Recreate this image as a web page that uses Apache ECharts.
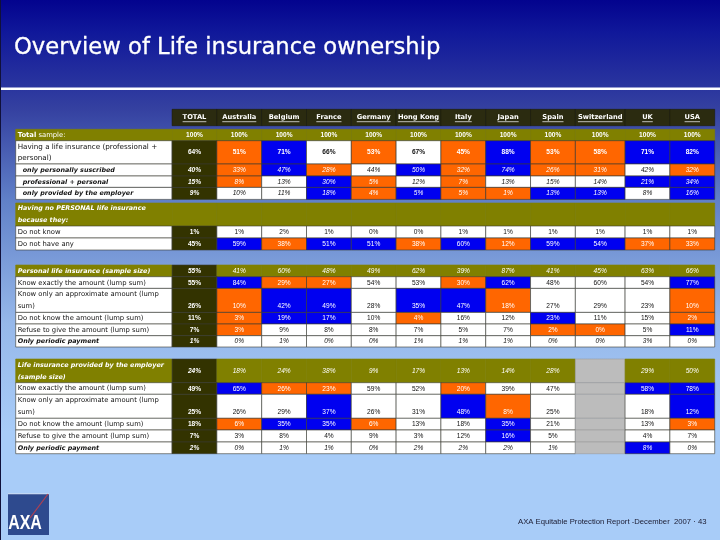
<!DOCTYPE html>
<html>
<head>
<meta charset="utf-8">
<title>Overview of Life insurance ownership</title>
<style>
	html, body { margin: 0; padding: 0; }
	#main { width: 720px; height: 540px; }
</style>
<script src="https://cdn.jsdelivr.net/npm/echarts@6/dist/echarts.min.js"></script>
</head>
<body>
<div id="main"></div>
<script>
	const countries = ["TOTAL", "Australia", "Belgium", "France", "Germany", "Hong Kong", "Italy", "Japan", "Spain", "Switzerland", "UK", "USA"];

	const rowLabels = [
		"{b|Total} sample:",
		"Having a life insurance (professional +\npersonal)",
		"only personally suscribed",
		"professional + personal",
		"only provided by the employer",
		"Having no PERSONAL life insurance\nbecause they:",
		"Do not know",
		"Do not have any",
		"Personal life insurance (sample size)",
		"Know exactly the amount (lump sum)",
		"Know only an approximate amount (lump\nsum)",
		"Do not know the amount (lump sum)",
		"Refuse to give the amount (lump sum)",
		"Only periodic payment",
		"Life insurance provided by the employer\n(sample size)",
		"Know exactly the amount (lump sum)",
		"Know only an approximate amount (lump\nsum)",
		"Do not know the amount (lump sum)",
		"Refuse to give the amount (lump sum)",
		"Only periodic payment"
	];

	// 各行数值 (%)，null = 空格
	const totalSample = [100, 100, 100, 100, 100, 100, 100, 100, 100, 100, 100, 100];
	const havingInsurance = [64, 51, 71, 66, 53, 67, 45, 88, 53, 58, 71, 82];
	const onlyPersonal = [40, 33, 47, 28, 44, 50, 32, 74, 26, 31, 42, 32];
	const professionalPersonal = [15, 8, 13, 30, 5, 12, 7, 13, 15, 14, 21, 34];
	const onlyEmployer = [9, 10, 11, 18, 4, 5, 5, 1, 13, 13, 8, 16];
	const noPersonalTitle = [null, null, null, null, null, null, null, null, null, null, null, null];
	const noPersonalDontKnow = [1, 1, 2, 1, 0, 0, 1, 1, 1, 1, 1, 1];
	const noPersonalDontHave = [45, 59, 38, 51, 51, 38, 60, 12, 59, 54, 37, 33];
	const personalSample = [55, 41, 60, 48, 49, 62, 39, 87, 41, 45, 63, 66];
	const personalExact = [55, 84, 29, 27, 54, 53, 30, 62, 48, 60, 54, 77];
	const personalApprox = [26, 10, 42, 49, 28, 35, 47, 18, 27, 29, 23, 10];
	const personalDontKnow = [11, 3, 19, 17, 10, 4, 16, 12, 23, 11, 15, 2];
	const personalRefuse = [7, 3, 9, 8, 8, 7, 5, 7, 2, 0, 5, 11];
	const personalPeriodic = [1, 0, 1, 0, 0, 1, 1, 1, 0, 0, 3, 0];
	const employerSample = [24, 18, 24, 38, 9, 17, 13, 14, 28, null, 29, 50];
	const employerExact = [49, 65, 26, 23, 59, 52, 20, 39, 47, null, 58, 78];
	const employerApprox = [25, 26, 29, 37, 26, 31, 48, 8, 25, null, 18, 12];
	const employerDontKnow = [18, 6, 35, 35, 6, 13, 18, 35, 21, null, 13, 3];
	const employerRefuse = [7, 3, 8, 4, 9, 3, 12, 16, 5, null, 4, 7];
	const employerPeriodic = [2, 0, 1, 1, 0, 2, 2, 2, 1, null, 8, 0];

	const rowValues = [totalSample, havingInsurance, onlyPersonal, professionalPersonal, onlyEmployer,
		noPersonalTitle, noPersonalDontKnow, noPersonalDontHave,
		personalSample, personalExact, personalApprox, personalDontKnow, personalRefuse, personalPeriodic,
		employerSample, employerExact, employerApprox, employerDontKnow, employerRefuse, employerPeriodic
	];

	// 每格底色: g 橄榄 d 深色 o 橙 b 蓝 w 白 x 灰
	const rowShades = [
		"gggggggggggg",
		"dobwowoboobb",
		"dobowboboowo",
		"dowbowowwwbb",
		"dwwboboobbwb",
		"gggggggggggg",
		"dwwwwwwwwwww",
		"dbobbobobboo",
		"dggggggggggg",
		"dboowwobwwwb",
		"dobbwbbowwwo",
		"dobbwowwbwwo",
		"dowwwwwwoowb",
		"dwwwwwwwwwww",
		"dggggggggxgg",
		"dboowwowwxbb",
		"dwwbwwbowxwb",
		"dobbowwbwxwo",
		"dwwwwwwbwxww",
		"dwwwwwwwwxbw"
	];

	const shadeColors = { g: "#808000", d: "#333300", o: "#ff6600", b: "#0000f0", w: "#ffffff", x: "#bcbcbc" };

	// 版面: 行高、行前间距、列宽 (列宽以普通列为 1)
	const headerHeight = 16.4;
	const rowHeights = [11.4, 23.3, 12, 11.4, 12, 23, 12, 12, 11.7, 11.7, 24, 11.6, 11.7, 11.3, 23.7, 11.6, 24, 11.7, 12, 11.7];
	const rowGaps = [3.6, 0, 0, 0, 0, 3.6, 0, 0, 15, 0, 0, 0, 0, 0, 12, 0, 0, 0, 0, 0];
	const labelSpan = 3.49;
	const colSpans = [1, 1, 1, 1, 1, 1, 1, 1, 1, 1.11, 1, 1];
	const italicRows = [2, 3, 4, 5, 8, 13, 14, 19];
	const boldValueRows = [1];
	const bottomRows = [10, 16];
	const indentRows = [2, 3, 4];
	const valueFont = "Liberation Sans";
	const labelFont = "DejaVu Sans";

	let colEdges = [0, labelSpan];
	colSpans.forEach(s => colEdges.push(colEdges[colEdges.length - 1] + s));
	let rowTops = [];
	let yPos = headerHeight;
	rowHeights.forEach((h, i) => {
		yPos += rowGaps[i];
		rowTops.push(yPos);
		yPos += h;
	});
	const yMax = yPos;
	const xMax = colEdges[colEdges.length - 1];

	const measure = document.createElement("canvas").getContext("2d");

	function cellBox(api, c0, c1, y0, y1) {
		let a = api.coord([c0, y0]);
		let b = api.coord([c1, y1]);
		return { x: a[0], y: a[1], width: b[0] - a[0], height: b[1] - a[1] };
	}

	function renderHeader(params, api) {
		let c = api.value(0);
		let box = cellBox(api, colEdges[c + 1], colEdges[c + 2], 0, headerHeight);
		let font = "bold 6.7px " + labelFont;
		measure.font = font;
		let w = measure.measureText(countries[c]).width;
		let cx = box.x + box.width / 2;
		let cy = box.y + box.height / 2;
		return {
			type: "group",
			children: [{
				type: "rect",
				shape: box,
				style: { fill: "#2b2b10", stroke: "#1c1c08", lineWidth: 0.6 }
			}, {
				type: "text",
				style: { x: cx, y: cy - 0.5, text: countries[c], align: "center", verticalAlign: "middle", fill: "#fff", font: font }
			}, {
				type: "line",
				shape: { x1: cx - w / 2, y1: cy + 4.2, x2: cx + w / 2, y2: cy + 4.2 },
				style: { stroke: "#fff", lineWidth: 0.7 }
			}]
		};
	}

	function renderCell(params, api) {
		let r = api.value(0);
		let c = api.value(1);
		let top = rowTops[r];
		let box = cellBox(api, colEdges[c + 1], colEdges[c + 2], top, top + rowHeights[r]);
		let shade = rowShades[r][c];
		let val = rowValues[r][c];
		let strokes = { g: "#808000", x: "#9c9c9c" };
		let children = [{
			type: "rect",
			shape: box,
			style: { fill: shadeColors[shade], stroke: strokes[shade] || "#3a3a30", lineWidth: 0.6 }
		}];
		if (val !== null) {
			let textY = box.y + box.height / 2 + 0.2;
			if (bottomRows.indexOf(r) > -1) textY = box.y + box.height * 0.74;
			let italic = italicRows.indexOf(r) > -1 ? "italic " : "";
			let bold = boldValueRows.indexOf(r) > -1 || r == 0 || shade == "d" ? "bold " : "";
			children.push({
				type: "text",
				style: {
					x: box.x + box.width / 2,
					y: textY,
					text: val + "%",
					align: "center",
					verticalAlign: "middle",
					fill: shade == "w" ? "#111" : "#fff",
					font: italic + bold + "6.6px " + valueFont
				}
			});
		}
		return { type: "group", children: children };
	}

	function renderLabel(params, api) {
		let r = api.value(0);
		let top = rowTops[r];
		let box = cellBox(api, 0, labelSpan, top, top + rowHeights[r]);
		let olive = r == 0 || r == 5 || r == 8 || r == 14;
		let italic = italicRows.indexOf(r) > -1;
		let font = italic ? "italic bold 6.4px " + labelFont : (r == 1 ? "7.2px " : "6.8px ") + labelFont;
		return {
			type: "group",
			children: [{
				type: "rect",
				shape: box,
				style: { fill: olive ? shadeColors.g : shadeColors.w, stroke: olive ? shadeColors.g : "#3a3a30", lineWidth: 0.6 }
			}, {
				type: "text",
				style: {
					x: box.x + (indentRows.indexOf(r) > -1 ? 7 : 2),
					y: box.y + box.height / 2 + 0.2,
					text: rowLabels[r],
					align: "left",
					verticalAlign: "middle",
					lineHeight: 11.8,
					fill: olive ? "#fff" : "#111",
					font: font,
					rich: { b: { font: "bold 6.8px " + labelFont, fill: "#fff" } }
				}
			}]
		};
	}

	let cellData = [];
	rowValues.forEach((vals, r) => {
		vals.forEach((v, c) => cellData.push([r, c]));
	});

	let myChart = echarts.init(document.getElementById("main"), null, { renderer: "canvas" });
	let option = {
		animation: false,
		backgroundColor: {
			type: "linear", x: 0, y: 0, x2: 0, y2: 1,
			colorStops: [
				{ offset: 0, color: "#03038e" },
				{ offset: 0.06, color: "#10189a" },
				{ offset: 0.2, color: "#3440a0" },
				{ offset: 0.37, color: "#6080c8" },
				{ offset: 0.6, color: "#96b8ea" },
				{ offset: 0.8, color: "#a8ccf8" },
				{ offset: 1, color: "#a8ccf8" }
			]
		},
		title: {
			text: "Overview of Life insurance ownership",
			left: 14,
			top: 37,
			padding: 0,
			textStyle: { color: "#fff", fontFamily: "DejaVu Sans", fontSize: 22.7, fontWeight: "normal", textBorderColor: "#fff", textBorderWidth: 0.3 }
		},
		grid: { left: 15.7, right: 5.3, top: 109.3, bottom: 86.3 },
		xAxis: { type: "value", min: 0, max: xMax, show: false },
		yAxis: { type: "value", inverse: true, min: 0, max: yMax, show: false },
		graphic: [
			{ type: "rect", shape: { x: 0, y: 87.5, width: 720, height: 2.5 }, style: { fill: "#fff" } },
			{ type: "rect", shape: { x: 0, y: 0, width: 1, height: 540 }, style: { fill: "#10103a" } },
			{ type: "rect", shape: { x: 8, y: 494, width: 41, height: 41 }, style: { fill: "#2e4a8e" } },
			{ type: "rect", shape: { x: 8, y: 493.5, width: 41, height: 0.7 }, style: { fill: "#dde4f0" } },
			{ type: "line", shape: { x1: 48, y1: 494, x2: 30, y2: 518 }, style: { stroke: "#b04050", lineWidth: 1.2 } },
			{ type: "text", x: 25, y: 523, scaleX: 0.76, style: { x: 0, y: 0, text: "AXA", align: "center", verticalAlign: "middle", fill: "#fff", font: "bold 21px 'Liberation Sans'" } },
			{ type: "text", style: { x: 518, y: 522, text: "AXA Equitable Protection Report -December  2007 · 43", align: "left", verticalAlign: "middle", fill: "#1a1a30", font: "7.7px 'Liberation Sans'" } }
		],
		series: [
			{ type: "custom", renderItem: renderHeader, coordinateSystem: "cartesian2d", data: countries.map((n, i) => [i]), silent: true, clip: false },
			{ type: "custom", renderItem: renderLabel, coordinateSystem: "cartesian2d", data: rowLabels.map((n, i) => [i]), silent: true, clip: false },
			{ type: "custom", renderItem: renderCell, coordinateSystem: "cartesian2d", data: cellData, encode: { x: 1, y: 0 }, silent: true, clip: false }
		]
	};
	myChart.setOption(option);
</script>
</body>
</html>
